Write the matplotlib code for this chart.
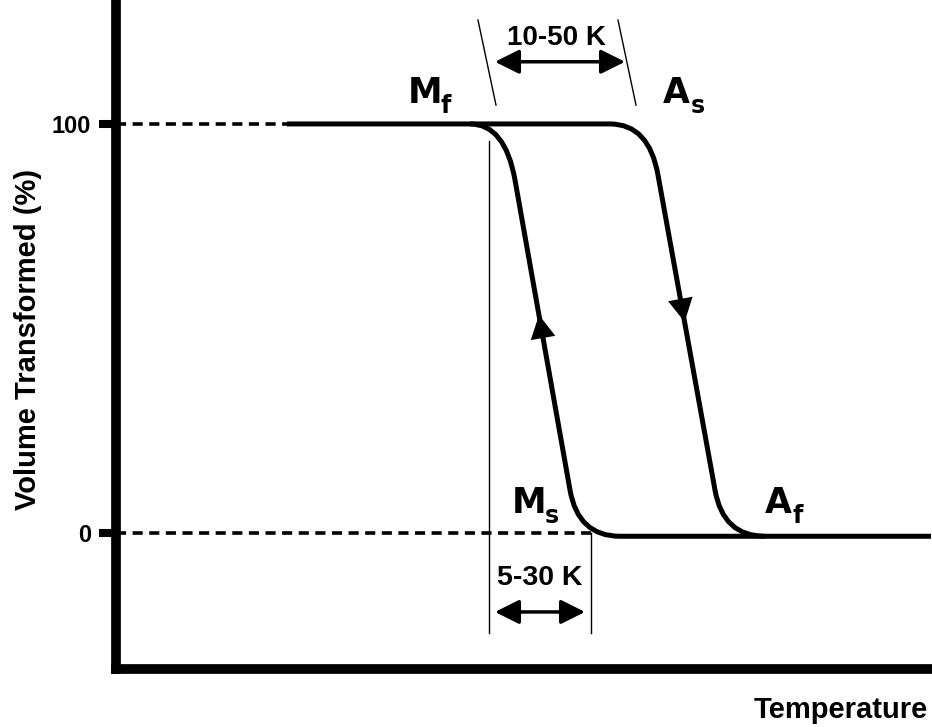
import matplotlib
matplotlib.use("Agg")
import matplotlib.pyplot as plt
from matplotlib.path import Path
from matplotlib.patches import PathPatch

plt.rcParams['font.family'] = ['Liberation Sans', 'DejaVu Sans']

# heating branch (As -> Af), including both plateaus, as bezier control points
heating_T = [171, 494, 533, 542, 599, 607, 649, 815]
heating_V = [100, 100, 100, 87.5, 10.5, -0.8, -0.8, -0.8]
# cooling branch (Ms -> Mf), runs into the lower plateau
cooling_T = [354, 389, 399, 454, 462, 504, 649]
cooling_V = [100, 100, 86.3, 10.5, -0.8, -0.8, -0.8]

# temperatures of the markers for the hysteresis widths
mf_line_T = 373
ms_line_T = 475
as_slash_T = [502, 520]
mf_slash_T = [362, 380]
slash_V = [125.4, 104.6]

yticks = [0, 100]

fig = plt.figure(figsize=(9.32, 7.27), dpi=100)
ax = fig.add_axes([116 / 932, 1 - 669 / 727, (931 - 116) / 932, 669 / 727])
ax.set_xlim(0, 815)
ax.set_ylim(-33.25, 130.3)

for side in ['top', 'right']:
    ax.spines[side].set_visible(False)
for side in ['left', 'bottom']:
    ax.spines[side].set_linewidth(7)
    ax.spines[side].set_capstyle('projecting')

ax.set_xticks([])
ax.set_yticks(yticks)
ax.set_yticklabels([str(v) for v in yticks], fontsize=17, fontweight='bold')
ax.tick_params(axis='y', length=12, width=5.8, pad=6, direction='out')

# dashed guides at 0 and 100 %
ax.plot([0, heating_T[0]], [100, 100], color='k', lw=2.6, ls=(0, (2.8, 1.8)))
ax.plot([0, ms_line_T], [0, 0], color='k', lw=2.6, ls=(0, (2.8, 1.8)))

# transformation curves
heat_codes = [Path.MOVETO, Path.LINETO, Path.CURVE3, Path.CURVE3,
              Path.LINETO, Path.CURVE3, Path.CURVE3, Path.LINETO]
cool_codes = [Path.MOVETO, Path.CURVE3, Path.CURVE3,
              Path.LINETO, Path.CURVE3, Path.CURVE3, Path.LINETO]
for T, V, codes in [(heating_T, heating_V, heat_codes), (cooling_T, cooling_V, cool_codes)]:
    p = Path(list(zip(T, V)), codes)
    ax.add_patch(PathPatch(p, facecolor='none', edgecolor='k', lw=3.6, capstyle='butt'))

# direction arrows on each branch
head = dict(arrowstyle='-|>,head_length=0.6,head_width=0.32', color='k', lw=0,
            mutation_scale=28, shrinkA=0, shrinkB=0)
ax.annotate('', xy=(423, 53.3), xytext=(426.5, 48.4), arrowprops=head)
ax.annotate('', xy=(568.6, 51.6), xytext=(564.9, 56.5), arrowprops=head)

# thin reference lines
ax.plot([mf_line_T, mf_line_T], [95.8, -24.4], color='k', lw=1)
ax.plot([ms_line_T, ms_line_T], [0, -24.4], color='k', lw=1)
ax.plot(mf_slash_T, slash_V, color='k', lw=1)
ax.plot(as_slash_T, slash_V, color='k', lw=1)

dbl = dict(arrowstyle='<|-|>,head_length=0.7,head_width=0.35', color='k', lw=2.5,
           mutation_scale=21, shrinkA=0, shrinkB=0)
ax.annotate('', xy=(379, 115.2), xytext=(509, 115.2), arrowprops=dbl)
ax.annotate('', xy=(379, -19.3), xytext=(469, -19.3), arrowprops=dbl)
ax.text(440, 121, '10-50 K', fontsize=20, fontweight='bold', ha='center', va='center')
ax.text(424, -11, '5-30 K', fontsize=20.5, fontweight='bold', ha='center', va='center')

# transformation temperatures: letter plus lowered subscript
main = dict(fontsize=25, fontweight='bold', family='DejaVu Sans', ha='left', va='baseline')
sub = dict(fontsize=17, fontweight='bold', family='DejaVu Sans', ha='left', va='baseline')
for letter, idx, x_main, x_sub, y in [('M', 'f', 292, 325, 105.1),
                                      ('A', 's', 547, 575, 105.1),
                                      ('M', 's', 396, 429, 4.9),
                                      ('A', 'f', 649, 677, 4.9)]:
    ax.text(x_main, y, letter, **main)
    ax.text(x_sub, y - 2.5, idx, **sub)

fig.text(28 / 932, 1 - 339 / 727, 'Volume Transformed (%)', rotation=90,
         fontsize=21, fontweight='bold', ha='center', va='center')
fig.text(928 / 932, 1 - 718 / 727, 'Temperature', fontsize=21, fontweight='bold',
         ha='right', va='baseline')

fig.savefig('out.png', dpi=100)
